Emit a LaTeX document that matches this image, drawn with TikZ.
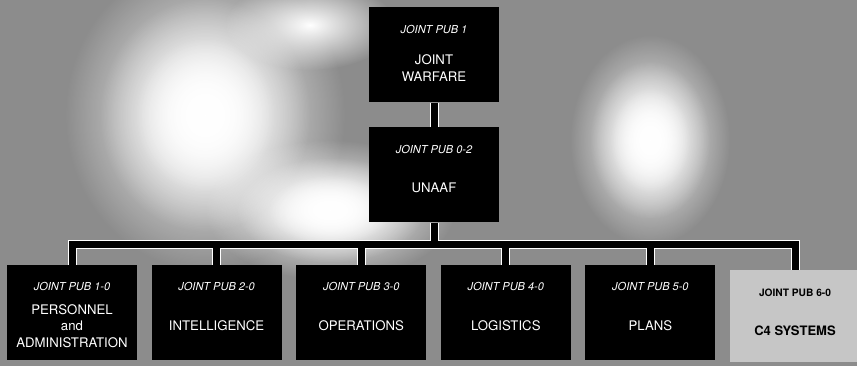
\documentclass[tikz,border=0pt]{standalone}
\usepackage{fontspec}
\setmainfont{TeX Gyre Heros}
\usetikzlibrary{fadings}
\definecolor{paper}{HTML}{8C8C8C}
\definecolor{card}{HTML}{C6C6C6}
\tikzfading[name=glow, inner color=transparent!0, outer color=transparent!100]
\tikzset{
  pub/.style    = {fill=black, minimum width=130pt, minimum height=95pt, inner sep=0pt},
  pubno/.style  = {font=\fontsize{11}{13}\selectfont\itshape, text=white, inner sep=1pt},
  title/.style  = {font=\fontsize{13.2}{16.5}\selectfont, text=white, align=center, inner sep=1pt},
  patch/.style  = {fill=white, path fading=glow},
}

\begin{document}
\begin{tikzpicture}[x=1pt,y=-1pt]
  \useasboundingbox (0,0) rectangle (857,366);
  % grainy backdrop with light patches
  \fill[paper] (0,0) rectangle (857,366);
  \foreach \s in {1,0.75,0.5}{
    \fill[patch] (205,115) ellipse [x radius=\s*140pt, y radius=\s*155pt];
    \fill[patch] (330,210) ellipse [x radius=\s*125pt, y radius=\s*70pt];
    \fill[patch] (650,140) ellipse [x radius=\s*80pt, y radius=\s*105pt];}
  \fill[patch] (310,25) ellipse [x radius=85pt, y radius=45pt];
  % top of the tree
  \node[pub] (jpub1) at (434,55) {};
  \node[pubno] (no1) at ([yshift=-22pt]jpub1.north) {JOINT PUB 1};
  \node[title] (tt1) at ([yshift=-61pt]jpub1.north) {JOINT\\WARFARE};
  \node[pub] (jpub02) at (434,175) {};
  \node[pubno] (no02) at ([yshift=-22pt]jpub02.north) {JOINT PUB 0-2};
  \node[title] (tt02) at ([yshift=-61pt]jpub02.north) {UNAAF};
  % bottom row
  \foreach \i/\n/\t [count=\k from 0] in {10/1-0/{PERSONNEL\\and\\ADMINISTRATION},
      20/2-0/INTELLIGENCE,30/3-0/OPERATIONS,40/4-0/LOGISTICS,50/5-0/PLANS}{
    \node[pub] (jpub\i) at ({72+144.6*\k},312.5) {};
    \node[pubno] (no\i) at ([yshift=-22pt]jpub\i.north) {JOINT PUB \n};
    \node[title] (tt\i) at ([yshift=-61pt]jpub\i.north) {\t};}
  \node[pub,fill=card,minimum height=92pt] (jpub60) at (795,316) {};
  \node[pubno,text=black,font=\fontsize{10.2}{12}\selectfont\bfseries] (no60)
    at ([yshift=-23pt]jpub60.north) {JOINT PUB 6-0};
  \node[title,text=black,font=\fontsize{13}{16}\selectfont\bfseries] (tt60)
    at ([yshift=-61pt]jpub60.north) {C4 SYSTEMS};
  % connectors: white halo first, then the black bar
  \coordinate (bus) at (434,245);
  \foreach \w/\c in {9pt/white,7pt/black}{
    \draw[line width=\w,draw=\c] (jpub1) -- (jpub02);
    \draw[line width=\w,draw=\c] (jpub02.south) -- (bus);
    \foreach \i in {10,20,30,40,50,60}
      \draw[line width=\w,draw=\c] (bus) -| (jpub\i.north);}
\end{tikzpicture}
\end{document}
